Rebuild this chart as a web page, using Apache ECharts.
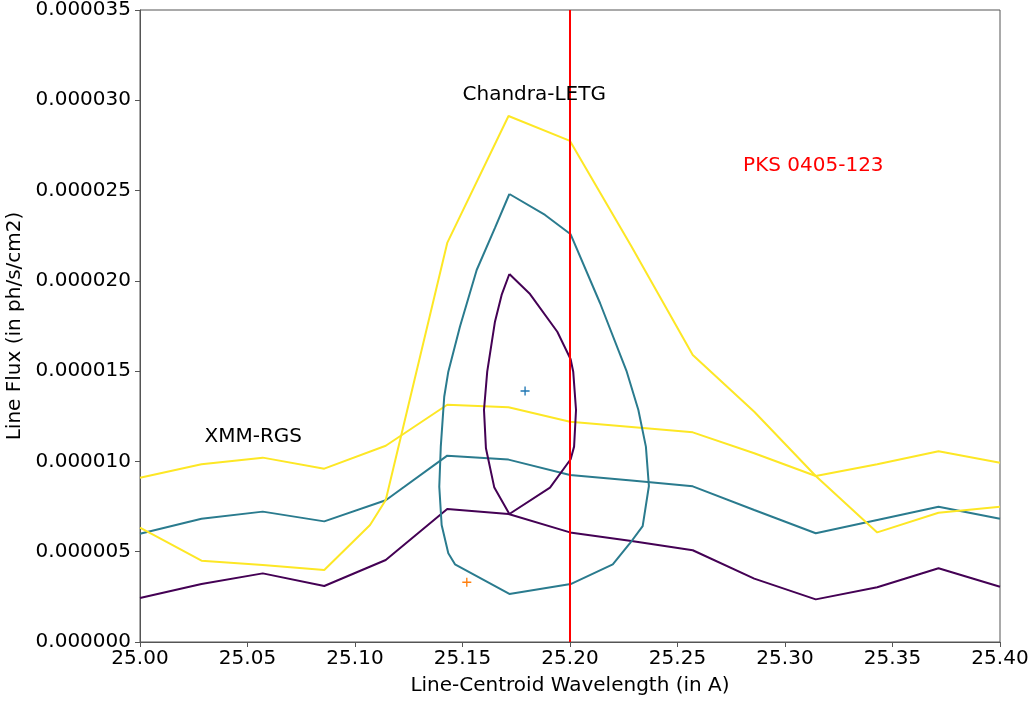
<!DOCTYPE html>
<html>
<head>
<meta charset="utf-8">
<script src="https://cdn.jsdelivr.net/npm/echarts@6/dist/echarts.min.js"></script>
<style>
html, body { margin: 0; padding: 0; background: #fff; }
#main { width: 1035px; height: 702px; }
</style>
</head>
<body>
<div id="main"></div>
<script>
var myChart = echarts.init(document.getElementById('main'));

// flux values are given in units of 1e-6 ph/s/cm2
var SCALE = 1e-6;

// wavelength grid of the XMM-RGS contours
var xmmWave = [25.0, 25.0286, 25.0571, 25.0857, 25.1143, 25.1429, 25.1714, 25.2,
               25.2286, 25.2571, 25.2857, 25.3143, 25.3429, 25.3714, 25.4];
var xmmYellow = [9.10, 9.84, 10.21, 9.60, 10.87, 13.14, 13.00, 12.20, 11.91, 11.61, 10.45, 9.19, 9.84, 10.56, 9.93];
var xmmTeal   = [6.00, 6.83, 7.22, 6.68, 7.85, 10.32, 10.10, 9.25, 8.94, 8.62, 7.31, 6.02, 6.76, 7.49, 6.83];
var xmmPurple = [2.44, 3.21, 3.80, 3.10, 4.54, 7.37, 7.09, 6.07, 5.59, 5.08, 3.51, 2.36, 3.03, 4.08, 3.06];

// Chandra-LETG contours: [wavelength, flux]
var letgYellow = [
    [25.0, 6.33], [25.0286, 4.50], [25.0571, 4.26], [25.0857, 3.99], [25.107, 6.48],
    [25.1143, 7.86], [25.1429, 22.1], [25.1714, 29.13], [25.2, 27.75], [25.2286, 21.9],
    [25.2571, 15.9], [25.2857, 12.75], [25.3143, 9.19], [25.3429, 6.07], [25.3714, 7.16], [25.4, 7.49]
];
var letgTeal = [
    [25.1718, 24.81], [25.1884, 23.65], [25.2003, 22.58], [25.2140, 18.76], [25.2264, 14.97],
    [25.2318, 12.85], [25.2353, 10.82], [25.2367, 8.64], [25.2338, 6.42], [25.2279, 5.47],
    [25.2199, 4.30], [25.2003, 3.21], [25.1718, 2.66], [25.1465, 4.30], [25.1434, 4.91],
    [25.1403, 6.48], [25.1392, 8.60], [25.1399, 10.82], [25.1415, 13.58], [25.1434, 14.97],
    [25.1488, 17.46], [25.1566, 20.60], [25.1651, 22.93], [25.1718, 24.81]
];
var letgPurple = [
    [25.1718, 20.38], [25.1814, 19.27], [25.1941, 17.18], [25.2003, 15.66], [25.2015, 14.97],
    [25.2028, 12.85], [25.2019, 10.82], [25.2003, 10.12], [25.1907, 8.55], [25.1718, 7.09],
    [25.1648, 8.55], [25.1609, 10.73], [25.1600, 12.85], [25.1615, 14.97], [25.1651, 17.74],
    [25.1682, 19.22], [25.1718, 20.38]
];

// best-fit points
var bestLetg = [25.1791, 13.90];
var bestXmm = [25.1520, 3.31];

// rest wavelength marker
var lineWave = 25.2;

// annotations: [wavelength, flux, text, colour]
var notes = [
    [25.150, 30.3, 'Chandra-LETG', '#000000'],
    [25.030, 11.35, 'XMM-RGS', '#000000'],
    [25.2805, 26.36, 'PKS 0405-123', '#ff0000']
];

var PURPLE = '#440154', TEAL = '#2a7b8e', YELLOW = '#fde725';
var FONT = 'DejaVu Sans';
var SPINE = '#555';

function scaleRow(p) { return [p[0], p[1] * SCALE]; }
function zipRow(arr) { return xmmWave.map(function (x, i) { return [x, arr[i] * SCALE]; }); }

function contour(name, data, color) {
    return {
        name: name, type: 'line', data: data, symbol: 'none',
        lineStyle: { color: color, width: 2 }, silent: true, z: 3
    };
}

var plus = 'path://M4.25,0H5.75V4.25H10V5.75H5.75V10H4.25V5.75H0V4.25H4.25Z';

option = {
    animation: false,
    backgroundColor: '#fff',
    textStyle: { fontFamily: FONT },
    grid: {
        left: 140, right: 35, top: 10, bottom: 60,
        outerBoundsMode: 'none', containLabel: false,
        show: true, borderColor: SPINE, borderWidth: 1
    },
    xAxis: {
        type: 'value', min: 25, max: 25.4, interval: 0.05,
        name: 'Line-Centroid Wavelength (in A)', nameLocation: 'middle', nameGap: 34,
        nameTextStyle: { fontSize: 20, color: '#000', fontFamily: FONT },
        axisLine: { show: true, lineStyle: { color: SPINE, width: 1 } },
        axisTick: { show: true, inside: false, length: 5, lineStyle: { color: SPINE } },
        axisLabel: { fontSize: 20, color: '#000', margin: 7, fontFamily: FONT,
            formatter: function (v) { return v.toFixed(2); } },
        splitLine: { show: false }
    },
    yAxis: {
        type: 'value', min: 0, max: 3.5e-5, interval: 5e-6,
        name: 'Line Flux (in ph/s/cm2)', nameLocation: 'middle', nameGap: 108,
        nameTextStyle: { fontSize: 20, color: '#000', fontFamily: FONT },
        axisLine: { show: true, lineStyle: { color: SPINE, width: 1 } },
        axisTick: { show: true, inside: false, length: 5, lineStyle: { color: SPINE } },
        axisLabel: { fontSize: 20, color: '#000', margin: 9, fontFamily: FONT,
            formatter: function (v) { return v.toFixed(6); } },
        splitLine: { show: false }
    },
    series: [
        contour('XMM purple', zipRow(xmmPurple), PURPLE),
        contour('XMM teal', zipRow(xmmTeal), TEAL),
        contour('XMM yellow', zipRow(xmmYellow), YELLOW),
        contour('LETG purple', letgPurple.map(scaleRow), PURPLE),
        contour('LETG teal', letgTeal.map(scaleRow), TEAL),
        contour('LETG yellow', letgYellow.map(scaleRow), YELLOW),
        {
            type: 'scatter', symbol: plus, symbolSize: 9, silent: true, z: 4,
            itemStyle: { opacity: 1 },
            data: [
                { value: scaleRow(bestLetg), itemStyle: { color: '#1f77b4' } },
                { value: scaleRow(bestXmm), itemStyle: { color: '#ff7f0e' } }
            ]
        },
        {
            type: 'line', symbol: 'none', silent: true, z: 5,
            data: [[lineWave, 0], [lineWave, 3.5e-5]],
            lineStyle: { color: '#ff0000', width: 2 }
        },
        {
            type: 'scatter', symbolSize: 0, silent: true, z: 6,
            itemStyle: { opacity: 1 },
            data: notes.map(function (n) {
                return {
                    value: [n[0], n[1] * SCALE], name: n[2],
                    label: { color: n[3] }
                };
            }),
            label: {
                show: true, formatter: '{b}', position: [0, 0], color: '#000',
                align: 'left', verticalAlign: 'middle', fontSize: 20, fontFamily: FONT,
                textBorderWidth: 0
            }
        }
    ]
};

myChart.setOption(option);
</script>
</body>
</html>
